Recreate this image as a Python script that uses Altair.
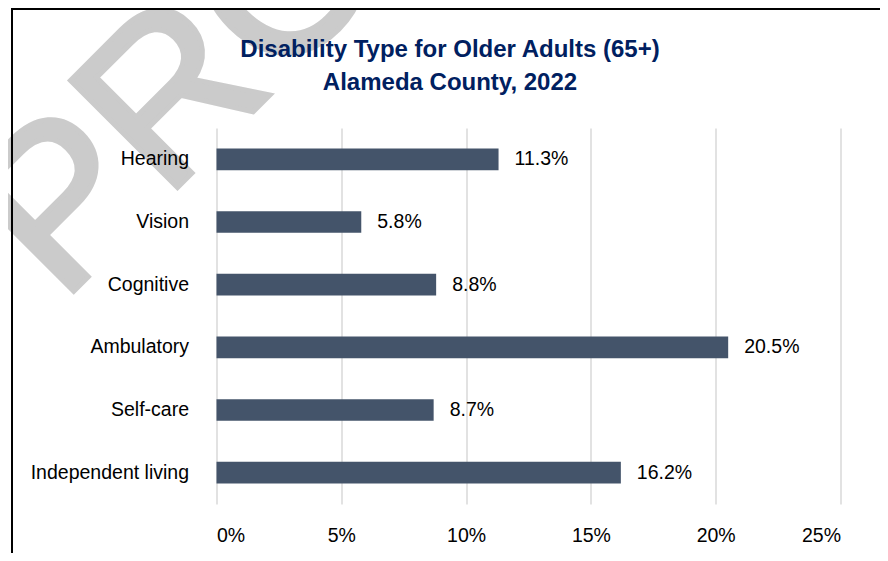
import altair as alt
import pandas as pd

categories = ["Hearing", "Vision", "Cognitive", "Ambulatory", "Self-care", "Independent living"]
values = [11.3, 5.8, 8.8, 20.5, 8.7, 16.2]
x_ticks = [0, 5, 10, 15, 20, 25]
title_lines = ["Disability Type for Older Adults (65+)", "Alameda County, 2022"]
watermark = "PROOF"

FONT = "Liberation Sans, Arial, sans-serif"
FS = 19.5
W, H = 624, 376

df = pd.DataFrame({"category": categories, "value": values})
one = pd.DataFrame({"k": [0]})

base = alt.Chart(df).encode(
    y=alt.Y("category:N", sort=categories, title=None,
            scale=alt.Scale(paddingInner=0.654, paddingOuter=0.327),
            axis=alt.Axis(ticks=False, domain=False, labelPadding=28, labelFontSize=FS,
                          labelFont=FONT, labelColor="#000000", grid=False, labelLimit=400,
                          zindex=1)),
)

bars = base.mark_bar(color="#44546A").encode(
    x=alt.X("value:Q", title=None,
            scale=alt.Scale(domain=[0, 25], nice=False),
            axis=alt.Axis(values=x_ticks, labelExpr="datum.value + '%'", ticks=False, domain=False,
                          labelPadding=22, labelFontSize=FS, labelFont=FONT, labelColor="#000000",
                          grid=True, gridColor="#d9d9d9", gridWidth=1.5))
)

labels = base.mark_text(align="left", baseline="middle", dx=16, fontSize=FS, font=FONT,
                        color="#000000").encode(
    x="value:Q",
    text="label:N",
).transform_calculate(label="format(datum.value, '.1f') + '%'")

wm = alt.Chart(one).mark_text(text=watermark, angle=315, fontSize=220, font="Liberation Sans",
                               color="#cbcbcb", stroke="#cbcbcb", strokeWidth=5,
                               align="left", baseline="alphabetic").encode(
    x=alt.value(-155.5), y=alt.value(176))

border_top = alt.Chart(one).mark_rule(color="#000000", strokeWidth=2).encode(
    x=alt.value(-205.5), x2=alt.value(663.5), y=alt.value(-119))
border_left = alt.Chart(one).mark_rule(color="#000000", strokeWidth=2).encode(
    x=alt.value(-204.5), y=alt.value(-120), y2=alt.value(425))

title = alt.Chart(one).mark_text(text=title_lines, fontSize=24, font=FONT, fontWeight="bold",
                                 color="#002060", align="center", baseline="alphabetic",
                                 lineHeight=33).encode(
    x=alt.value(233.5), y=alt.value(-71))

chart = alt.layer(wm, border_top, border_left, title, bars, labels).properties(
    width=W, height=H,
    autosize=alt.AutoSizeParams(type="none"),
    padding={"left": 208.5, "top": 120, "right": 39.5, "bottom": 49},
).configure_view(strokeWidth=0, stroke="transparent")

chart.save("out.html", embed_options={"renderer": "svg", "actions": False})
